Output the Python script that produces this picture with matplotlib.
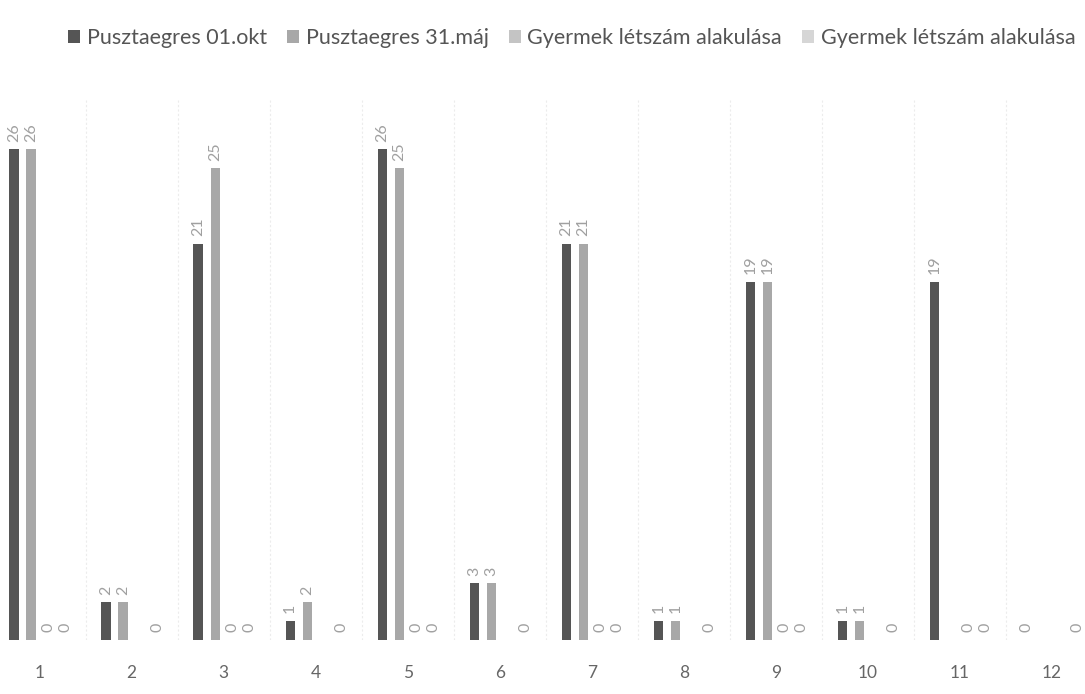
import numpy as np
import matplotlib
matplotlib.use("Agg")
import matplotlib.pyplot as plt

categories = ["1", "2", "3", "4", "5", "6", "7", "8", "9", "10", "11", "12"]
series_names = ["Pusztaegres 01.okt", "Pusztaegres 31.máj",
                "Gyermek létszám alakulása", "Gyermek létszám alakulása"]
s1 = [26, 2, 21, 1, 26, 3, 21, 1, 19, 1, 19, 0]
s2 = [26, 2, 25, 2, 25, 3, 21, 1, 19, 1, np.nan, np.nan]
s3 = [0, np.nan, 0, np.nan, 0, np.nan, 0, np.nan, 0, np.nan, 0, np.nan]
s4 = [0, 0, 0, 0, 0, 0, 0, 0, 0, 0, 0, 0]
series = [s1, s2, s3, s4]
colors = ["#555555", "#a8a8a8", "#c4c4c4", "#d6d6d6"]

plt.rcParams['font.family'] = ['Lato', 'DejaVu Sans']
fig = plt.figure(figsize=(10.85, 6.94), dpi=100)
ax = fig.add_axes([0.0, 0.078, 1.0, 0.78])

x = np.arange(len(categories))
slot = 0.185
bw = 0.10
offsets = (np.arange(4) - 1.5) * slot
for vals, off, c, name in zip(series, offsets, colors, series_names):
    v = np.array(vals, dtype=float)
    ax.bar(x + off, np.nan_to_num(v), width=bw, color=c, label=name)
    for xi, val in zip(x, v):
        if np.isnan(val):
            continue
        ax.text(xi + off, val + 0.4, f"{int(val)}", rotation=90,
                ha="center", va="bottom", fontsize=11.5, color="#a0a0a0")

ax.set_xlim(-0.43, 11.36)
ax.set_ylim(0, 28.7)
ax.set_xticks(x)
ax.set_xticklabels(categories, fontsize=12.5, color="#666666")
ax.tick_params(axis="x", length=0, pad=18)
ax.set_yticks([])
for sp in ax.spines.values():
    sp.set_visible(False)
for b in np.arange(-0.5, 12, 1.0):
    ax.axvline(b, color="#ececec", lw=0.8, ls=(0, (2, 2)), zorder=0)

handles, labels = ax.get_legend_handles_labels()
fig.legend(handles, labels, loc="upper center", bbox_to_anchor=(0.527, 0.987),
           ncol=4, frameon=False, fontsize=15.5, handlelength=0.55,
           handleheight=0.55, handletextpad=0.3, columnspacing=0.95,
           labelcolor="#555555")

fig.savefig("out.png", dpi=100)
